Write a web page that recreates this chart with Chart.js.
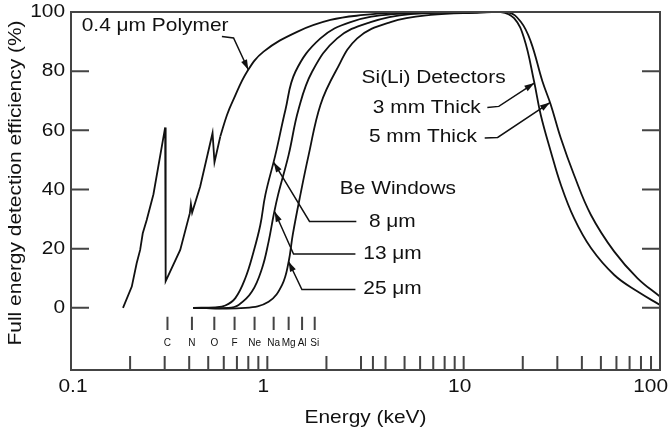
<!DOCTYPE html>
<html>
<head>
<meta charset="utf-8">
<script src="https://cdn.jsdelivr.net/npm/chart.js@4/dist/chart.umd.min.js"></script>
<style>
  html, body { margin: 0; padding: 0; background: #fff; }
  #wrap { width: 669px; height: 433px; }
</style>
</head>
<body>
<div id="wrap"><canvas id="chart"></canvas></div>
<script>
// values: energy (keV) and efficiency (%)
// polymer window: saw-tooth part (C, N, O edges) and the smooth part above it
const polymerEdgeEnergy = [0.184, 0.204, 0.216, 0.225, 0.232, 0.243, 0.263, 0.3017, 0.3035, 0.36, 0.403, 0.408, 0.414, 0.455, 0.526, 0.538, 0.576];
const polymerEdgeEff = [0, 7.2, 15.1, 19.6, 25.2, 29.7, 38.4, 61, 9, 19.6, 32, 35.1, 32.2, 41, 59.1, 49.2, 57.9];
const polymerEnergy = [0.576, 0.623, 0.671, 0.788, 0.957, 1.418, 2.096, 3.1, 4.41, 8.0, 15.0];
const polymerEff = [57.9, 65.2, 70.3, 79.8, 86.6, 93.3, 97.3, 99.0, 99.7, 100, 100];

const be8Energy = [0.419, 0.543, 0.611, 0.687, 0.772, 0.851, 0.921, 0.977, 1.099, 1.236, 1.39, 1.864, 2.652, 4.395, 8.585, 15.0];
const be8Eff = [0, 0.2, 0.8, 3.3, 10.0, 19.0, 28.0, 38.2, 51.7, 66.9, 79.8, 91.1, 96.6, 99.3, 99.9, 100];

const be13Energy = [0.419, 0.632, 0.714, 0.835, 0.94, 1.015, 1.077, 1.134, 1.284, 1.439, 1.69, 2.268, 3.354, 5.365, 10.86, 15.0];
const be13Eff = [0, 0, 1.0, 5.5, 13.4, 22.4, 31.4, 38.2, 51.7, 66.9, 79.8, 91.1, 96.6, 99.3, 99.9, 100];

const be25Energy = [0.419, 0.772, 1.015, 1.189, 1.284, 1.347, 1.473, 1.624, 1.864, 2.223, 2.869, 4.243, 6.785, 12.21, 15.0];
const be25Eff = [0, 0, 2.1, 7.8, 15.6, 24.7, 38.2, 51.7, 68.6, 79.8, 91.1, 96.6, 99.0, 99.8, 100];

const thick3Energy = [10, 15.45, 18.06, 20.31, 22.84, 24.7, 27.8, 31.26, 36.5, 44.5, 58.5, 76.9, 100];
const thick3Eff = [100, 100, 97.9, 91.1, 76.5, 65.2, 52.8, 41.6, 30.3, 20.2, 11.1, 5.5, 1.0];

const thick5Energy = [10, 16.7, 19.54, 21.97, 25.2, 27.8, 31.26, 36.5, 44.5, 58.5, 76.9, 100];
const thick5Eff = [100, 100, 96.7, 90.0, 76.5, 68.6, 57.3, 44.9, 31.4, 19.0, 10.0, 3.8];

// axes
const xLabels = [0.1, 1, 10, 100];
const xMinorTicks = [0.2, 0.3, 0.4, 0.5, 0.6, 0.7, 0.8, 0.9, 1, 2, 3, 3.45, 4, 5, 6, 7, 8, 9, 10, 20, 30, 40, 50, 60, 70, 80, 90];
const yLabels = [0, 20, 40, 60, 80, 100];
const yTicks = [0, 20, 40, 60, 80];

// K-line markers along the bottom
const elementNames = ['C', 'N', 'O', 'F', 'Ne', 'Na', 'Mg', 'Al', 'Si'];
const elementEnergy = [0.31, 0.413, 0.537, 0.681, 0.861, 1.077, 1.284, 1.503, 1.743];

const FONT = '"Liberation Sans", Arial, Helvetica, sans-serif';
const STRETCH = 1.1; // original lettering is a little wider than Arial
const INK = '#111';

function toPoints(xs, ys) {
  return xs.map((x, i) => ({ x: x, y: ys[i] }));
}

function curve(label, xs, ys, tension) {
  return {
    label: label,
    data: toPoints(xs, ys),
    borderColor: INK,
    borderWidth: 1.8,
    pointRadius: 0,
    fill: false,
    tension: tension,
    clip: { left: 3, top: 0, right: 3, bottom: 3 }
  };
}

// draw text (optionally a bit wider than the font), anchored at x
function drawText(ctx, str, x, y, align, size, stretch) {
  const sx = stretch || STRETCH;
  ctx.save();
  ctx.font = size + 'px ' + FONT;
  ctx.textBaseline = 'middle';
  ctx.textAlign = 'left';
  ctx.fillStyle = INK;
  const w = ctx.measureText(str).width * sx;
  let left = x;
  if (align === 'center') left = x - w / 2;
  if (align === 'right') left = x - w;
  ctx.translate(left, y);
  ctx.scale(sx, 1);
  ctx.fillText(str, 0, 0);
  ctx.restore();
  return w;
}

// polyline ending in a filled arrow head
function drawLeader(ctx, pts) {
  ctx.save();
  ctx.strokeStyle = INK;
  ctx.fillStyle = INK;
  ctx.lineWidth = 1.5;
  ctx.beginPath();
  ctx.moveTo(pts[0][0], pts[0][1]);
  for (let i = 1; i < pts.length; i++) ctx.lineTo(pts[i][0], pts[i][1]);
  ctx.stroke();
  const a = pts[pts.length - 2], b = pts[pts.length - 1];
  const ang = Math.atan2(b[1] - a[1], b[0] - a[0]);
  const len = 10, half = 3.2;
  ctx.translate(b[0], b[1]);
  ctx.rotate(ang);
  ctx.beginPath();
  ctx.moveTo(0, 0);
  ctx.lineTo(-len, -half);
  ctx.lineTo(-len, half);
  ctx.closePath();
  ctx.fill();
  ctx.restore();
}

const frame = {
  id: 'frame',
  afterDatasetsDraw(chart) {
    const ctx = chart.ctx;
    const area = chart.chartArea;
    const xs = chart.scales.x;
    const ys = chart.scales.y;
    const P = (x, y) => [xs.getPixelForValue(x), ys.getPixelForValue(y)];

    ctx.save();
    // box
    ctx.strokeStyle = '#444';
    ctx.lineWidth = 2;
    ctx.strokeRect(area.left, area.top, area.right - area.left, area.bottom - area.top);

    // inward ticks
    ctx.beginPath();
    xMinorTicks.forEach(v => {
      const x = xs.getPixelForValue(v);
      ctx.moveTo(x, area.bottom);
      ctx.lineTo(x, area.bottom - 14);
    });
    yTicks.forEach(v => {
      const y = ys.getPixelForValue(v);
      ctx.moveTo(area.left, y);
      ctx.lineTo(area.left + 18, y);
      ctx.moveTo(area.right, y);
      ctx.lineTo(area.right - 18, y);
    });
    ctx.stroke();

    // element markers
    ctx.beginPath();
    elementEnergy.forEach(e => {
      const x = xs.getPixelForValue(e);
      ctx.moveTo(x, ys.getPixelForValue(-3));
      ctx.lineTo(x, ys.getPixelForValue(-7.5));
    });
    ctx.stroke();
    ctx.restore();

    elementNames.forEach((name, i) => {
      drawText(ctx, name, xs.getPixelForValue(elementEnergy[i]), ys.getPixelForValue(-12), 'center', 10, 1);
    });

    // tick labels
    yLabels.forEach(v => {
      drawText(ctx, String(v), area.left - 6, ys.getPixelForValue(v), 'right', 19);
    });
    xLabels.forEach(v => {
      ctx.font = '19px ' + FONT;
      const w = ctx.measureText(String(v)).width * STRETCH;
      let cx = xs.getPixelForValue(v) - 4;
      cx = Math.max(cx, area.left + 2);
      cx = Math.min(cx, chart.width - w / 2 - 1);
      drawText(ctx, String(v), cx, area.bottom + 17, 'center', 19);
    });

    // axis titles
    drawText(ctx, 'Energy (keV)', (area.left + area.right) / 2, area.bottom + 48, 'center', 19);
    ctx.save();
    ctx.translate(16, (area.top + area.bottom) / 2 - 8);
    ctx.rotate(-Math.PI / 2);
    drawText(ctx, 'Full energy detection efficiency (%)', 0, 0, 'center', 19);
    ctx.restore();

    // annotations
    let p = P(0.1134, 95.3);
    drawText(ctx, '0.4 μm Polymer', p[0], p[1], 'left', 19);
    drawLeader(ctx, [P(0.587, 91.7), P(0.673, 91.2), P(0.80, 80.5)]);

    p = P(3.02, 77.9);
    drawText(ctx, 'Si(Li) Detectors', p[0], p[1], 'left', 19);
    p = P(3.445, 67.8);
    drawText(ctx, '3 mm Thick', p[0], p[1], 'left', 19);
    drawLeader(ctx, [P(13.2, 67.7), P(15.1, 68.1), P(22.9, 76.0)]);
    p = P(3.29, 57.9);
    drawText(ctx, '5 mm Thick', p[0], p[1], 'left', 19);
    drawLeader(ctx, [P(12.8, 57.4), P(14.9, 57.6), P(27.5, 69.4)]);

    p = P(2.34, 40.1);
    drawText(ctx, 'Be Windows', p[0], p[1], 'left', 19);
    p = P(3.29, 29.2);
    drawText(ctx, '8 μm', p[0], p[1], 'left', 19);
    drawLeader(ctx, [P(2.84, 29.2), P(1.64, 29.2), P(1.077, 49.2)]);
    p = P(3.08, 18.2);
    drawText(ctx, '13 μm', p[0], p[1], 'left', 19);
    drawLeader(ctx, [P(2.81, 18.2), P(1.36, 18.2), P(1.09, 32.5)]);
    p = P(3.08, 6.3);
    drawText(ctx, '25 μm', p[0], p[1], 'left', 19);
    drawLeader(ctx, [P(2.81, 6.2), P(1.50, 6.2), P(1.284, 15.6)]);
  }
};

new Chart(document.getElementById('chart'), {
  type: 'line',
  data: {
    datasets: [
      curve('0.4 μm Polymer (edges)', polymerEdgeEnergy, polymerEdgeEff, 0),
      curve('0.4 μm Polymer', polymerEnergy, polymerEff, 0.4),
      curve('8 μm Be', be8Energy, be8Eff, 0.4),
      curve('13 μm Be', be13Energy, be13Eff, 0.4),
      curve('25 μm Be', be25Energy, be25Eff, 0.4),
      curve('3 mm Thick', thick3Energy, thick3Eff, 0.4),
      curve('5 mm Thick', thick5Energy, thick5Eff, 0.4)
    ]
  },
  options: {
    responsive: true,
    maintainAspectRatio: false,
    animation: false,
    layout: { padding: { left: 71, right: 9, top: 12, bottom: 63 } },
    scales: {
      x: { type: 'logarithmic', min: 0.1, max: 100, display: false },
      y: { type: 'linear', min: -21, max: 100, display: false }
    },
    plugins: {
      legend: { display: false },
      tooltip: { enabled: false }
    }
  },
  plugins: [frame]
});
</script>
</body>
</html>
